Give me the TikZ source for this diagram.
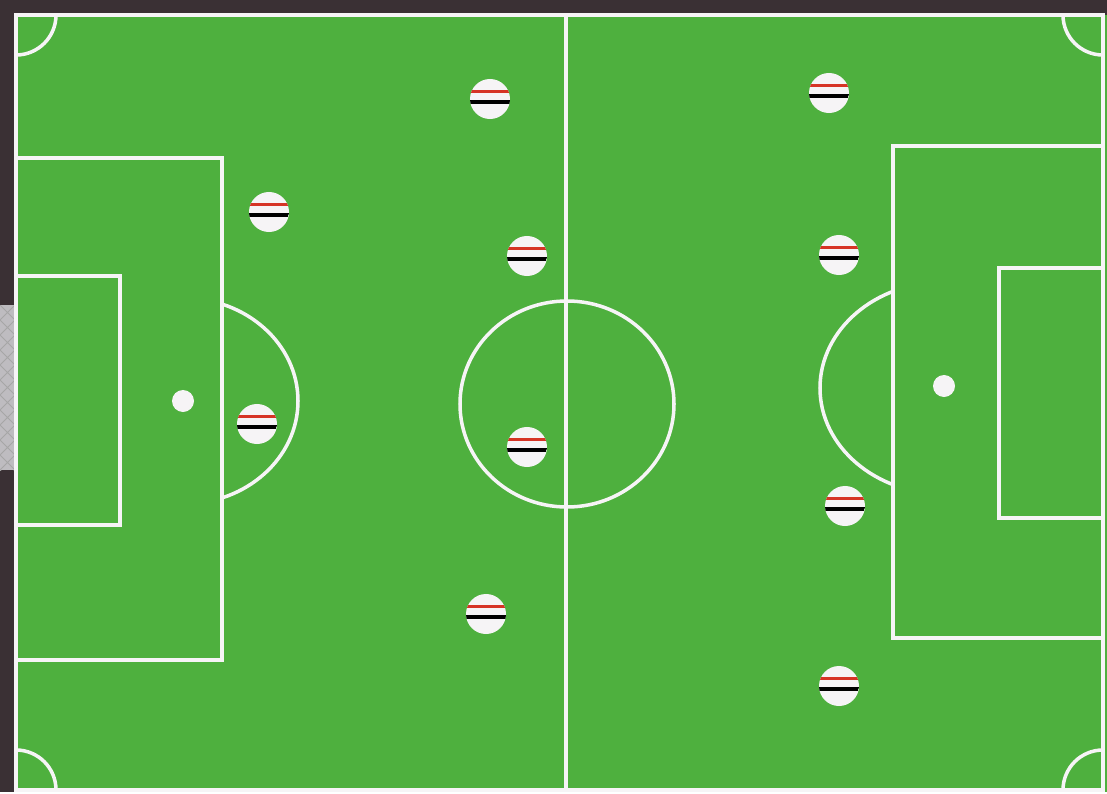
\documentclass[tikz,border=0pt]{standalone}
\definecolor{grass}{RGB}{78,176,62}
\definecolor{bgdark}{RGB}{58,48,52}
\definecolor{chalk}{RGB}{246,244,246}
\definecolor{stripered}{RGB}{214,52,38}
\definecolor{netgrey}{RGB}{190,188,192}

\begin{document}
\begin{tikzpicture}[
        x=0.025cm, y=-0.025cm,
        line/.style={draw=chalk, line width=2.5pt},
        spot/.style={circle, fill=chalk, minimum size=0.55cm, inner sep=0pt},
        player/.style={circle, fill=chalk, minimum size=1cm, inner sep=0pt,
          path picture={
            \draw[stripered, line width=2.2pt]
              ([yshift=0.18cm]path picture bounding box.west) --
              ([yshift=0.18cm]path picture bounding box.east);
            \draw[black, line width=2.8pt]
              ([yshift=-0.07cm]path picture bounding box.west) --
              ([yshift=-0.07cm]path picture bounding box.east);
          }}
      ]
        % ground and goal net
        \fill[bgdark] (0,0) rectangle (1107,792);
        \fill[grass] (16,15) rectangle (1107,792);
        \fill[netgrey] (0,305) rectangle (15,470);
        \begin{scope}
          \clip (0,305) rectangle (15,470);
          \foreach \k in {290,305,...,480}
            \draw[gray!70, line width=0.6pt] (0,\k) -- (15,\k+15)
                                             (0,\k+15) -- (15,\k);
        \end{scope}

        % outline and halfway line
        \draw[line] (16,792) -- (16,15) -- (1103,15) -- (1103,792);
        \draw[line] (16,790) -- (1103,790);
        \draw[line] (566,15) -- (566,792);

        % corner arcs
        \begin{scope}
          \clip (16,15) rectangle (1103,790);
          \draw[line] (16,15) circle[radius=40];
          \draw[line] (1103,15) circle[radius=40];
          \draw[line] (16,790) circle[radius=40];
          \draw[line] (1103,790) circle[radius=40];
        \end{scope}

        % centre circle
        \draw[line] (567,404) ellipse[x radius=107, y radius=103];

        % left box
        \draw[line] (16,158) -- (222,158) -- (222,660) -- (16,660);
        \draw[line] (16,276) -- (120,276) -- (120,525) -- (16,525);
        \node[spot] (lspot) at (183,401) {};
        \begin{scope}
          \clip (222,0) rectangle (566,792);
          \draw[line] (183,401) ellipse[x radius=115, y radius=103];
        \end{scope}

        % right box
        \draw[line] (1103,146) -- (893,146) -- (893,638) -- (1103,638);
        \draw[line] (1103,268) -- (999,268) -- (999,518) -- (1103,518);
        \node[spot] (rspot) at (944,386) {};
        \begin{scope}
          \clip (566,0) rectangle (893,792);
          \draw[line] (944,388) ellipse[x radius=124, y radius=106];
        \end{scope}

        % players
        \node[player] (la) at (490,99) {};
        \node[player] (lb) at (269,212) {};
        \node[player] (lc) at (527,256) {};
        \node[player] (ld) at (257,424) {};
        \node[player] (le) at (527,447) {};
        \node[player] (lf) at (486,614) {};
        \node[player] (ra) at (829,93) {};
        \node[player] (rb) at (839,255) {};
        \node[player] (rc) at (845,506) {};
        \node[player] (rd) at (839,686) {};
      \end{tikzpicture}
\end{document}
